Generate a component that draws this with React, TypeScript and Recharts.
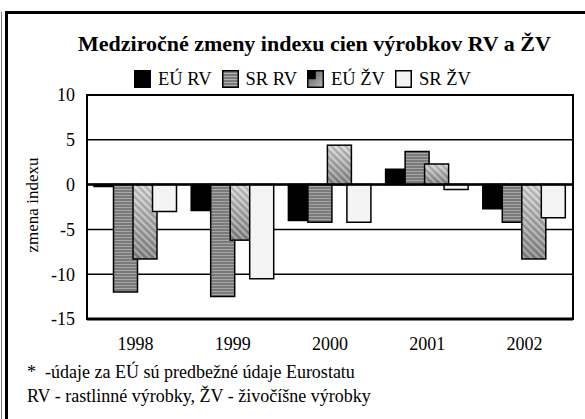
import {
  BarChart,
  Bar,
  XAxis,
  YAxis,
  CartesianGrid,
  ReferenceLine,
  ReferenceArea,
} from "recharts";

const years = ["1998", "1999", "2000", "2001", "2002"];
const euRv = [-0.2, -2.9, -4.0, 1.7, -2.7];
const srRv = [-12.0, -12.5, -4.2, 3.7, -4.2];
const euZv = [-8.3, -6.2, 4.4, 2.3, -8.3];
const srZv = [-3.0, -10.5, -4.2, -0.55, -3.7];
const yTicks = [-15, -10, -5, 0, 5, 10];

const seriesNames = ["EÚ RV", "SR RV", "EÚ ŽV", "SR ŽV"];
const notes = [
  "*  -údaje za EÚ sú predbežné údaje Eurostatu",
  "RV - rastlinné výrobky, ŽV - živočíšne výrobky",
];

const data = years.map((year, i) => ({
  year,
  euRv: euRv[i],
  srRv: srRv[i],
  euZv: euZv[i],
  srZv: srZv[i],
}));

const FONT = "'Liberation Serif', 'Times New Roman', serif";

// gradient + diagonal hatch, like the old Excel fill
function HatchBar(props: any) {
  const { x, y, width, height } = props;
  const top = height < 0 ? y + height : y;
  const h = Math.abs(height);
  if (!h) return null;
  return (
    <g>
      <rect x={x} y={top} width={width} height={h} fill="url(#zvGrad)" />
      <rect x={x} y={top} width={width} height={h} fill="url(#diagHatch)" />
      <rect
        x={x}
        y={top}
        width={width}
        height={h}
        fill="none"
        stroke="#000"
        strokeWidth={1.5}
      />
    </g>
  );
}

function Swatch({ kind }: { kind: number }) {
  return (
    <svg width={17} height={18} style={{ display: "block" }}>
      <defs>
        <pattern id={"lgStripe" + kind} width={4} height={3} patternUnits="userSpaceOnUse">
          <rect width={4} height={3} fill="#7a7a7a" />
          <rect width={4} height={1} fill="#b0b0b0" />
        </pattern>
        <linearGradient id={"lgGrad" + kind} x1="0" y1="0" x2="1" y2="1">
          <stop offset="0%" stopColor="#555" />
          <stop offset="100%" stopColor="#bbb" />
        </linearGradient>
      </defs>
      {kind === 0 && <rect x={0.75} y={0.75} width={15.5} height={16.5} fill="#000" stroke="#000" strokeWidth={1.5} />}
      {kind === 1 && <rect x={0.75} y={0.75} width={15.5} height={16.5} fill={"url(#lgStripe" + kind + ")"} stroke="#000" strokeWidth={1.5} />}
      {kind === 2 && (
        <g>
          <rect x={0.75} y={0.75} width={15.5} height={16.5} fill={"url(#lgGrad" + kind + ")"} />
          <rect x={0.75} y={0.75} width={8} height={8.5} fill="#000" />
          <rect x={0.75} y={0.75} width={15.5} height={16.5} fill="none" stroke="#000" strokeWidth={1.5} />
        </g>
      )}
      {kind === 3 && <rect x={0.75} y={0.75} width={15.5} height={16.5} fill="#f4f4f4" stroke="#000" strokeWidth={1.5} />}
    </svg>
  );
}

export default function App() {
  return (
    <div
      style={{
        position: "absolute",
        left: 0,
        top: 0,
        width: 585,
        height: 419,
        background: "#fff",
        overflow: "hidden",
        fontFamily: FONT,
        color: "#000",
      }}
    >
      {/* frame */}
      <div style={{ position: "absolute", left: 1, top: 12, width: 1, height: 420, background: "#777" }} />
      <div style={{ position: "absolute", left: 5, top: 11, width: 3, height: 420, background: "#000" }} />
      <div style={{ position: "absolute", left: 5, top: 11, width: 590, height: 3, background: "#000" }} />

      <div
        style={{
          position: "absolute",
          left: 78,
          top: 31,
          fontSize: 22,
          lineHeight: "26px",
          fontWeight: "bold",
          whiteSpace: "nowrap",
        }}
      >
        Medziročné zmeny indexu cien výrobkov RV a ŽV
      </div>

      <div
        style={{
          position: "absolute",
          left: 134,
          top: 70,
          display: "flex",
          alignItems: "center",
          gap: 10,
          fontSize: 18.5,
          lineHeight: "18px",
        }}
      >
        {seriesNames.map((name, i) => (
          <div key={name} style={{ display: "flex", alignItems: "center", gap: 7 }}>
            <Swatch kind={i} />
            <span style={{ whiteSpace: "nowrap" }}>{name}</span>
          </div>
        ))}
      </div>

      <div
        style={{
          position: "absolute",
          left: 33,
          top: 205,
          transform: "translate(-50%, -50%) rotate(-90deg)",
          fontSize: 17,
          lineHeight: "20px",
          whiteSpace: "nowrap",
        }}
      >
        zmena indexu
      </div>

      <BarChart
        width={585}
        height={419}
        data={data}
        margin={{ top: 95, right: 12, bottom: 70, left: 37 }}
        barSize={24}
        barGap={-4.5}
        style={{ position: "absolute", left: 0, top: 0 }}
      >
        <defs>
          <pattern id="hStripe" width={4} height={3} patternUnits="userSpaceOnUse">
            <rect width={4} height={3} fill="#7a7a7a" />
            <rect width={4} height={1} fill="#a6a6a6" />
          </pattern>
          <pattern
            id="diagHatch"
            width={5}
            height={5}
            patternUnits="userSpaceOnUse"
            patternTransform="rotate(-45)"
          >
            <line x1={1} y1={0} x2={1} y2={5} stroke="rgba(0,0,0,0.3)" strokeWidth={1} />
            <line x1={3.5} y1={0} x2={3.5} y2={5} stroke="rgba(255,255,255,0.35)" strokeWidth={1} />
          </pattern>
          <linearGradient id="zvGrad" x1="0" y1="0" x2="0" y2="1">
            <stop offset="0%" stopColor="#d6d6d6" />
            <stop offset="100%" stopColor="#8a8a8a" />
          </linearGradient>
        </defs>
        <CartesianGrid vertical={false} stroke="#000" strokeWidth={1.5} />
        <XAxis
          dataKey="year"
          axisLine={false}
          tickLine={false}
          tickSize={0}
          tickMargin={18}
          height={30}
          interval={0}
          tick={{ fill: "#000", fontSize: 18, fontFamily: FONT }}
        />
        <YAxis
          domain={[-15, 10]}
          ticks={yTicks}
          width={50}
          axisLine={false}
          tickLine={false}
          tickSize={0}
          tickMargin={12}
          interval={0}
          tick={{ fill: "#000", fontSize: 18, fontFamily: FONT }}
        />
        <ReferenceArea y1={-15} y2={10} fill="none" stroke="#000" strokeWidth={2} />
        <Bar dataKey="euRv" fill="#000" stroke="#000" strokeWidth={1.5} isAnimationActive={false} />
        <Bar dataKey="srRv" fill="url(#hStripe)" stroke="#000" strokeWidth={1.5} isAnimationActive={false} />
        <Bar dataKey="euZv" fill="#aaa" shape={HatchBar} isAnimationActive={false} />
        <Bar dataKey="srZv" fill="#f4f4f4" stroke="#000" strokeWidth={1.5} isAnimationActive={false} />
        <ReferenceLine y={0} stroke="#000" strokeWidth={2.5} />
        <ReferenceLine y={-15} stroke="#000" strokeWidth={3} />
      </BarChart>

      {notes.map((note, i) => (
        <div
          key={note}
          style={{
            position: "absolute",
            left: 27,
            top: 361 + i * 24,
            fontSize: 18,
            lineHeight: "22px",
            whiteSpace: "pre",
          }}
        >
          {note}
        </div>
      ))}
    </div>
  );
}
